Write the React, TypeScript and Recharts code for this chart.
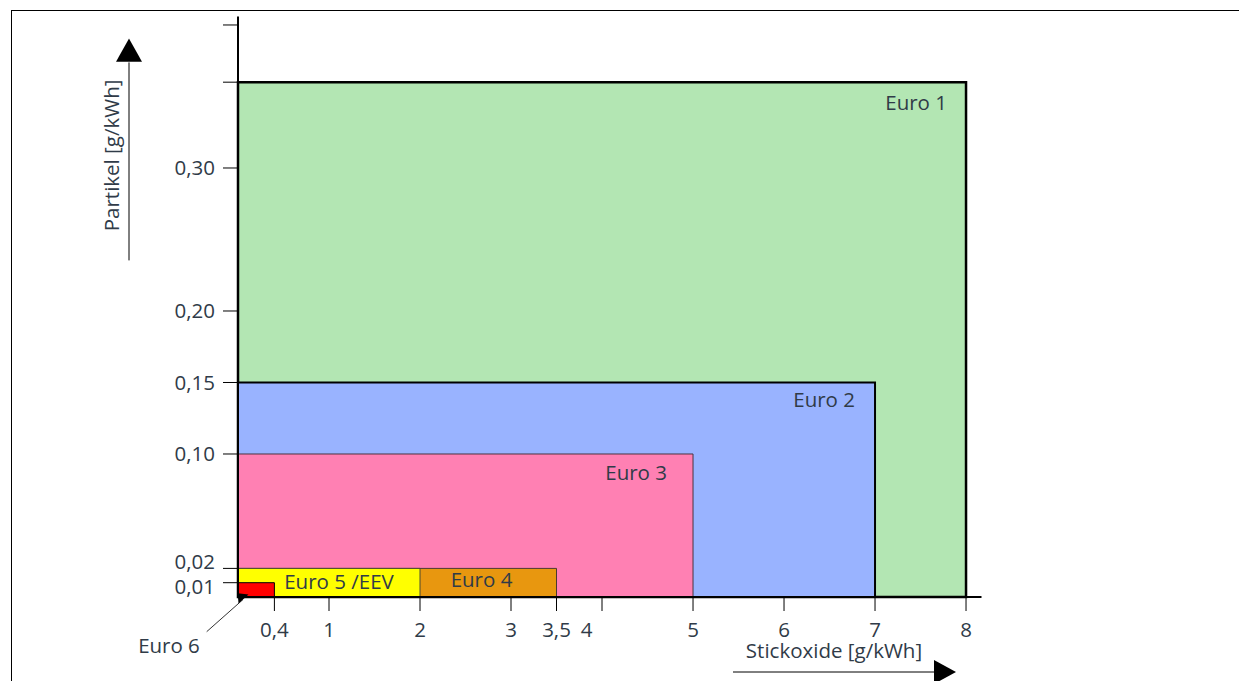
import React from 'react';
import { ComposedChart, XAxis, YAxis, ReferenceArea } from 'recharts';

// Euro norms for heavy-duty engines: NOx and particle limits
const norms = ['Euro 1', 'Euro 2', 'Euro 3', 'Euro 4', 'Euro 5 /EEV', 'Euro 6'];
const noxLimits = [8, 7, 5, 3.5, 2, 0.4];
const pmLimits = [0.36, 0.15, 0.1, 0.02, 0.02, 0.01];

const xTicks = [0.4, 1, 2, 3, 3.5, 4, 5, 6, 7, 8];
const xTickLabels = ['0,4', '1', '2', '3', '3,5', '4', '5', '6', '7', '8'];
const yTicks = [0.01, 0.02, 0.1, 0.15, 0.2, 0.3, 0.36, 0.4];
const yTickLabels = ['0,01', '0,02', '0,10', '0,15', '0,20', '0,30', '', ''];

const FONT = "'Open Sans', sans-serif";
const TEXT = '#303b48';

const boxStyles = [
  { fill: '#b3e6b3', stroke: '#000', strokeWidth: 2.5 },
  { fill: '#99b3ff', stroke: '#000', strokeWidth: 2 },
  { fill: '#ff80b3', stroke: '#4a3440', strokeWidth: 1 },
  { fill: '#e8970f', stroke: '#4a3a30', strokeWidth: 1 },
  { fill: '#ffff00', stroke: '#4a4a30', strokeWidth: 1 },
  { fill: '#ff0000', stroke: '#000', strokeWidth: 1 },
];

// where each name sits inside its box
const labelPlace = [
  { from: 'right', dx: -19, dy: 28, anchor: 'end' },
  { from: 'right', dx: -20, dy: 24.5, anchor: 'end' },
  { from: 'right', dx: -26, dy: 26.5, anchor: 'end' },
  { from: 'right', dx: -75, dy: 19, anchor: 'middle' },
  { from: 'left', dx: 101, dy: 20.7, anchor: 'middle' },
];

const textProps = { fill: TEXT, fontFamily: FONT, fontSize: 20.5 };

function boxLabel(i: number) {
  return (props: any) => {
    const vb = props.viewBox || {};
    if (i === 5) {
      // Euro 6 sits outside, with an arrow pointing at the small box
      const cx = vb.x;
      const cy = vb.y + vb.height;
      return (
        <g>
          <line x1={cx - 31.3} y1={cy + 34.7} x2={cx + 5} y2={cy + 2.5} stroke="#333" strokeWidth={1} />
          <polygon
            points={`${cx - 0.3},${cy - 3.7} ${cx + 0.5},${cy + 6.5} ${cx + 10.5},${cy - 2.5}`}
            fill="#000"
          />
          <text x={cx - 69} y={cy + 56} textAnchor="middle" {...textProps}>
            {norms[i]}
          </text>
        </g>
      );
    }
    const p = labelPlace[i];
    const x = p.from === 'right' ? vb.x + vb.width + p.dx : vb.x + p.dx;
    return (
      <text x={x} y={vb.y + p.dy} textAnchor={p.anchor as any} {...textProps}>
        {norms[i]}
      </text>
    );
  };
}

const XTick = (props: any) => {
  const { x, y, payload } = props;
  const i = xTicks.indexOf(payload.value);
  const shift = payload.value === 4 ? -15.5 : 0;
  return (
    <text x={x + shift} y={y + 13.5} textAnchor="middle" {...textProps}>
      {xTickLabels[i]}
    </text>
  );
};

const YTick = (props: any) => {
  const { x, y, payload } = props;
  const i = yTicks.indexOf(payload.value);
  const shift = payload.value === 0.01 ? 4.4 : payload.value === 0.02 ? -6.3 : 0;
  return (
    <text x={x} y={y + 7.2 + shift} textAnchor="end" {...textProps}>
      {yTickLabels[i]}
    </text>
  );
};

const YTitle = (props: any) => {
  const vb = props.viewBox || {};
  const ax = vb.x - 49;
  const tx = vb.x - 59;
  const ty = vb.y + 139;
  return (
    <g>
      <text x={tx} y={ty} textAnchor="middle" transform={`rotate(-90 ${tx} ${ty})`} {...textProps}>
        Partikel [g/kWh]
      </text>
      <line x1={ax} y1={vb.y + 244} x2={ax} y2={vb.y + 46} stroke="#000" strokeWidth={1} />
      <polygon points={`${ax - 13},${vb.y + 45.3} ${ax + 13},${vb.y + 45.3} ${ax},${vb.y + 22}`} fill="#000" />
    </g>
  );
};

const XTitle = (props: any) => {
  const vb = props.viewBox || {};
  const ay = vb.y + 75;
  return (
    <g>
      <text x={vb.x + 596} y={vb.y + 61} textAnchor="middle" {...textProps}>
        Stickoxide [g/kWh]
      </text>
      <line x1={vb.x + 495} y1={ay} x2={vb.x + 697} y2={ay} stroke="#000" strokeWidth={1} />
      <polygon points={`${vb.x + 696},${ay - 12} ${vb.x + 696},${ay + 12} ${vb.x + 718},${ay}`} fill="#000" />
    </g>
  );
};

export default function App() {
  return (
    <div style={{ position: 'absolute', left: 0, top: 0, width: 1239, height: 681, background: '#fff' }}>
      <div
        style={{
          position: 'absolute',
          left: 11,
          top: 10,
          width: 1228,
          height: 671,
          borderTop: '1.5px solid #000',
          borderLeft: '1.5px solid #000',
        }}
      />
      <div style={{ position: 'absolute', left: 0, top: 0 }}>
        <ComposedChart width={1239} height={681} margin={{ top: 16.4, right: 257.5, bottom: 54, left: 178 }}>
          {norms.map((n, i) => (
            <ReferenceArea
              key={n}
              x1={0}
              x2={noxLimits[i]}
              y1={0}
              y2={pmLimits[i]}
              fill={boxStyles[i].fill}
              fillOpacity={1}
              stroke={boxStyles[i].stroke}
              strokeWidth={boxStyles[i].strokeWidth}
              label={boxLabel(i)}
            />
          ))}
          <XAxis
            type="number"
            dataKey="x"
            domain={[0, 8.17]}
            ticks={xTicks}
            height={30}
            tickSize={14}
            tickMargin={12}
            tick={<XTick />}
            axisLine={{ stroke: '#000', strokeWidth: 2 }}
            tickLine={{ stroke: '#000', strokeWidth: 1 }}
            interval={0}
            allowDataOverflow
            label={<XTitle />}
          />
          <YAxis
            type="number"
            domain={[0, 0.406]}
            ticks={yTicks}
            width={60}
            tickSize={15}
            tickMargin={8}
            tick={<YTick />}
            axisLine={{ stroke: '#000', strokeWidth: 2 }}
            tickLine={{ stroke: '#000', strokeWidth: 1 }}
            interval={0}
            allowDataOverflow
            label={<YTitle />}
          />
        </ComposedChart>
      </div>
    </div>
  );
}
